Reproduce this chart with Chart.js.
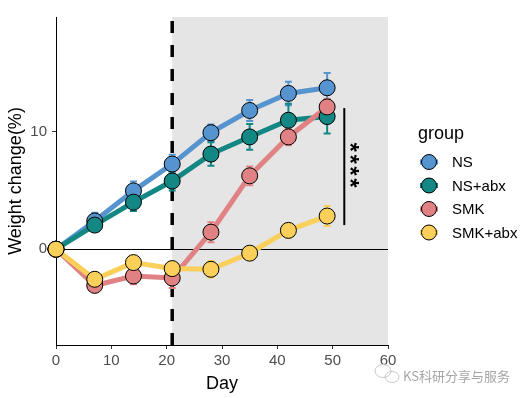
<!DOCTYPE html>
<html>
<head>
<meta charset="utf-8">
<script src="https://cdn.jsdelivr.net/npm/chart.js@4"></script>
<style>
html,body{margin:0;padding:0;background:#fff;}
#wrap{width:525px;height:398px;}
</style>
</head>
<body>
<div id="wrap"><canvas id="c" width="525" height="398"></canvas></div>
<script>
const days = [0, 7, 14, 21, 28, 35, 42, 49];
const groups = ['NS', 'NS+abx', 'SMK', 'SMK+abx'];
const ns        = [0, 2.4, 4.96, 7.24, 9.91, 11.8, 13.25, 13.73];
const nsErr     = [0, 0.7, 0.8, 0.8, 0.7, 0.9, 1.0, 1.25];
const nsAbx     = [0, 2.05, 4.0, 5.8, 8.09, 9.55, 10.97, 11.28];
const nsAbxErr  = [0, 0.5, 0.75, 0.8, 1.0, 1.1, 1.4, 1.43];
const smk       = [0, -3.08, -2.28, -2.45, 1.45, 6.24, 9.55, 12.1];
const smkErr    = [0, 0.5, 0.7, 0.85, 0.85, 0.8, 0.7, 0.7];
const smkAbx    = [0, -2.56, -1.14, -1.65, -1.71, -0.34, 1.6, 2.82];
const smkAbxErr = [0, 0.6, 0.5, 0.4, 0.7, 0.3, 0.6, 0.85];
const xTicks = [0, 10, 20, 30, 40, 50, 60];
const yTicks = [0, 10];
const shadeFrom = 21, shadeTo = 60;
const treatDay = 21;
const sigX = 52.1, sigLow = 2.05, sigHigh = 12.0, sigLabel = '****';
const watermark = 'KS科研分享与服务';

const colors = ['#5694CF', '#138783', '#E08283', '#FAD05B'];
const values = [ns, nsAbx, smk, smkAbx];
const errs = [nsErr, nsAbxErr, smkErr, smkAbxErr];

const datasets = [];
groups.forEach((g, i) => {
  datasets.push({
    label: g + ' line',
    data: days.map((d, k) => ({x: d, y: values[i][k]})),
    borderColor: colors[i],
    backgroundColor: colors[i],
    borderWidth: 5,
    pointRadius: 0,
    showLine: true,
    clip: false,
    order: 8 - i
  });
});
groups.forEach((g, i) => {
  datasets.push({
    label: g,
    data: days.map((d, k) => ({x: d, y: values[i][k]})),
    errors: errs[i],
    borderColor: '#000',
    backgroundColor: colors[i],
    pointBorderColor: '#000',
    pointBackgroundColor: colors[i],
    pointBorderWidth: 1,
    pointRadius: 8,
    showLine: false,
    clip: false,
    order: 4 - i,
    color: colors[i]
  });
});

const FONT = '"Liberation Sans", Arial, sans-serif';

const decor = {
  id: 'decor',
  beforeDatasetsDraw(chart) {
    const {ctx, chartArea: a, scales: {x, y}} = chart;
    ctx.save();
    const x0 = x.getPixelForValue(shadeFrom), x1 = x.getPixelForValue(shadeTo);
    ctx.fillStyle = '#E5E5E5';
    ctx.fillRect(x0, a.top, x1 - x0, a.bottom - a.top);
    const y0 = y.getPixelForValue(0);
    ctx.strokeStyle = '#000';
    ctx.lineWidth = 1;
    ctx.beginPath();
    ctx.moveTo(a.left, Math.round(y0) + 0.5);
    ctx.lineTo(a.right, Math.round(y0) + 0.5);
    ctx.stroke();
    const xd = x.getPixelForValue(treatDay);
    ctx.lineWidth = 3.5;
    ctx.setLineDash([12, 12]);
    ctx.lineDashOffset = -4;
    ctx.beginPath();
    ctx.moveTo(xd, a.top);
    ctx.lineTo(xd, a.bottom);
    ctx.stroke();
    ctx.setLineDash([]);
    chart.data.datasets.forEach((ds) => {
      if (!ds.errors) return;
      ctx.strokeStyle = ds.color;
      ctx.lineWidth = 2;
      ds.data.forEach((p, k) => {
        const e = ds.errors[k];
        if (!e) return;
        const px = x.getPixelForValue(p.x);
        const yt = y.getPixelForValue(p.y + e), yb = y.getPixelForValue(p.y - e);
        ctx.beginPath();
        ctx.moveTo(px, yt); ctx.lineTo(px, yb);
        ctx.moveTo(px - 3.5, yt); ctx.lineTo(px + 3.5, yt);
        ctx.moveTo(px - 3.5, yb); ctx.lineTo(px + 3.5, yb);
        ctx.stroke();
      });
    });
    ctx.restore();
  },
  afterDatasetsDraw(chart) {
    const {ctx, scales: {x, y}} = chart;
    ctx.save();
    const bx = x.getPixelForValue(sigX);
    ctx.strokeStyle = '#000';
    ctx.lineWidth = 2;
    ctx.beginPath();
    ctx.moveTo(bx, y.getPixelForValue(sigHigh));
    ctx.lineTo(bx, y.getPixelForValue(sigLow));
    ctx.stroke();
    const cy = (y.getPixelForValue(sigHigh) + y.getPixelForValue(sigLow)) / 2;
    ctx.translate(bx + 4, cy);
    ctx.rotate(Math.PI / 2);
    ctx.fillStyle = '#000';
    ctx.font = 'bold 23px ' + FONT;
    ctx.letterSpacing = '3px';
    ctx.textAlign = 'center';
    ctx.textBaseline = 'middle';
    ctx.fillText(sigLabel, 0, 0);
    ctx.restore();
  },
  afterDraw(chart) {
    const {ctx} = chart;
    ctx.save();
    ctx.fillStyle = '#000';
    ctx.font = '18px ' + FONT;
    ctx.textBaseline = 'alphabetic';
    ctx.textAlign = 'left';
    ctx.fillText('group', 418, 139);
    const ys = [162, 185.5, 209, 232.5];
    groups.forEach((g, i) => {
      const cx = 429, cyy = ys[i];
      ctx.strokeStyle = colors[i];
      ctx.lineWidth = 5;
      ctx.beginPath();
      ctx.moveTo(cx - 9, cyy); ctx.lineTo(cx + 9, cyy);
      ctx.stroke();
      ctx.beginPath();
      ctx.arc(cx, cyy, 7.5, 0, Math.PI * 2);
      ctx.fillStyle = colors[i];
      ctx.fill();
      ctx.lineWidth = 1;
      ctx.strokeStyle = '#000';
      ctx.stroke();
      ctx.fillStyle = '#000';
      ctx.font = '15px ' + FONT;
      ctx.textBaseline = 'middle';
      ctx.fillText(g, 452, cyy + 1);
    });
    ctx.strokeStyle = '#C8C8C8';
    ctx.lineWidth = 1;
    ctx.beginPath();
    ctx.ellipse(383, 371, 8, 6.5, 0, 0, Math.PI * 2);
    ctx.stroke();
    ctx.beginPath();
    ctx.ellipse(392, 377, 7, 5.5, 0, 0, Math.PI * 2);
    ctx.stroke();
    ctx.fillStyle = '#A6A6A6';
    ctx.font = '13px "Noto Sans CJK SC", sans-serif';
    ctx.textBaseline = 'middle';
    ctx.fillText(watermark, 403, 376);
    ctx.restore();
  }
};

new Chart(document.getElementById('c'), {
  type: 'scatter',
  data: {datasets},
  options: {
    responsive: false,
    animation: false,
    devicePixelRatio: 1,
    layout: {padding: {top: 17, right: 137, bottom: 3, left: 5}},
    plugins: {legend: {display: false}, tooltip: {enabled: false}},
    scales: {
      x: {
        type: 'linear',
        min: 0, max: 60,
        afterBuildTicks: (s) => { s.ticks = xTicks.map(v => ({value: v})); },
        afterFit: (s) => { s.height = 50; },
        grid: {display: true, drawOnChartArea: false, drawTicks: true, tickLength: 4, tickColor: '#333333', tickWidth: 1},
        border: {display: true, color: '#000', width: 1},
        ticks: {color: '#4D4D4D', font: {family: FONT, size: 15}, padding: 3, maxRotation: 0},
        title: {display: true, text: 'Day', color: '#000', font: {family: FONT, size: 18}, padding: 0}
      },
      y: {
        type: 'linear',
        min: -8.15, max: 19.75,
        afterBuildTicks: (s) => { s.ticks = yTicks.map(v => ({value: v})); },
        afterFit: (s) => { s.width = 51; },
        grid: {display: true, drawOnChartArea: false, drawTicks: true, tickLength: 4, tickColor: '#333333', tickWidth: 1},
        border: {display: true, color: '#000', width: 1},
        ticks: {color: '#4D4D4D', font: {family: FONT, size: 15}, padding: 5},
        title: {display: true, text: 'Weight change(%)', color: '#000', font: {family: FONT, size: 18}, padding: 0}
      }
    }
  },
  plugins: [decor]
});
</script>
</body>
</html>
